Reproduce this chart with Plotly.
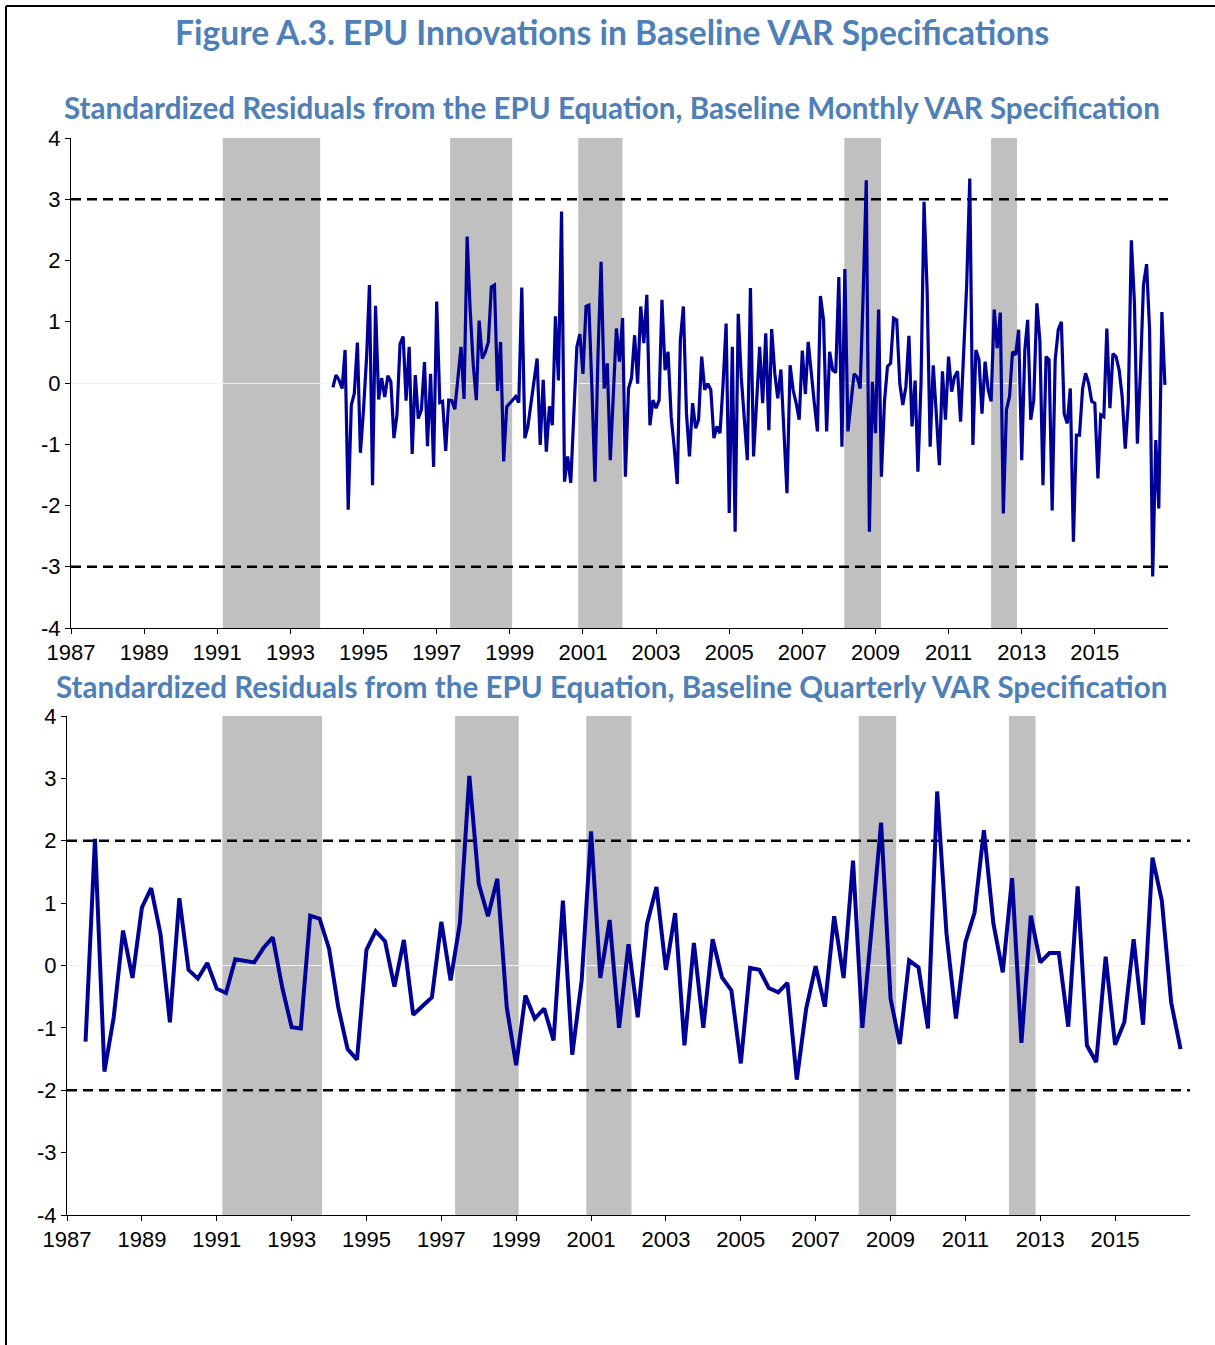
import plotly.graph_objects as go
import pandas as pd

W, H = 1215, 1345

# ---------------- data ----------------
monthly_start = "1994-03-01"
monthly_resid = [
    -0.07, 0.13, 0.05, -0.09, 0.54, -2.07, -0.36, -0.17, 0.66, -1.14,
    -0.44, 0.43, 1.60, -1.67, 1.26, -0.27, 0.08, -0.23, 0.12, 0.02,
    -0.90, -0.52, 0.64, 0.76, -0.29, 0.59, -1.16, 0.13, -0.58, -0.44,
    0.34, -1.03, 0.15, -1.37, 1.33, -0.32, -0.30, -1.11, -0.28, -0.29,
    -0.43, 0.10, 0.59, -0.26, 2.39,
    1.20, 0.30, -0.28, 1.02, 0.40, 0.50, 0.67, 1.57, 1.60, -0.13,
    0.67, -1.28, -0.39, -0.33, -0.28, -0.22, -0.32, 1.56, -0.90, -0.71,
    -0.33, 0.05, 0.40, -1.01, 0.05, -1.12, -0.38, -0.69, 1.09, 0.04,
    2.80, -1.61, -1.20, -1.63, -0.44, 0.59, 0.80, 0.15, 1.25, 1.27,
    -0.11, -1.61, 0.51, 1.98, -0.09, 0.32,
    -1.26, -0.22, 0.89, 0.35, 1.06, -1.53, -0.09, 0.08, 0.78, -0.01,
    1.25, 0.65, 1.44, -0.69, -0.28, -0.41, -0.28, 1.36, 0.21, 0.51,
    -0.55, -1.04, -1.65, 0.70, 1.25, -0.50, -1.20, -0.33, -0.74, -0.60,
    0.43, -0.11, -0.01, -0.11, -0.90, -0.71, -0.82, -0.01, 0.97, -2.12,
    0.59, -2.43, 1.13, 0.10, -0.60, -1.26,
    1.55, -1.20, -0.33, 0.59, -0.33, 0.81, -0.77, 0.88, 0.16, -0.25,
    0.22, -0.70, -1.80, 0.29, -0.11, -0.33, -0.60, 0.53, -0.18, 0.67,
    0.10, -0.33, -0.79, 1.42, 1.03, -0.79, 0.51, 0.21, 0.17, 1.73,
    -1.04, 1.86, -0.79, -0.33, 0.15, 0.10, -0.09, 1.50, 3.31, -2.43,
    0.02, -0.82, 1.20, -1.53, -0.30, 0.27,
    0.32, 1.06, 1.03, -0.01, -0.36, -0.06, 0.77, -0.71, 0.04, -1.45,
    0.00, 2.96, 1.50, -1.04, 0.29, -0.52, -1.34, 0.19, -0.60, 0.43,
    -0.14, 0.10, 0.19, -0.63, 0.50, 1.60, 3.34, -1.01, 0.54, 0.38,
    -0.50, 0.35, -0.11, -0.30, 1.20, 0.57, 1.15, -2.13, -0.44, -0.22,
    0.51, 0.46, 0.87, -1.26, 0.54, 1.03,
    -0.60, -0.28, 1.30, 0.70, -1.67, 0.43, 0.38, -2.08, 0.38, 0.87,
    1.00, -0.50, -0.66, -0.09, -2.59, -0.85, -0.85, -0.09, 0.16, -0.01,
    -0.30, -0.33, -1.56, -0.52, -0.55, 0.89, -0.41, 0.48, 0.43, 0.21,
    -0.22, -1.07, -0.33, 2.33, 1.30, -0.99, 0.20, 1.60, 1.94, 0.87,
    -3.16, -0.93, -2.05, 1.16, -0.03,
]

quarterly_start = "1987-07-01"
quarterly_resid = [
    -1.22, 2.03, -1.70, -0.83, 0.56, -0.20, 0.93, 1.24, 0.51, -0.91,
    1.08, -0.07, -0.21, 0.04, -0.37, -0.44, 0.10, 0.08, 0.05, 0.28,
    0.45, -0.35, -0.99, -1.01, 0.80, 0.75, 0.27, -0.67, -1.34,
    -1.51, 0.25, 0.55, 0.39, -0.34, 0.41, -0.79, -0.64, -0.51, 0.70,
    -0.24, 0.68, 3.04, 1.31, 0.79, 1.39, -0.67, -1.60, -0.48, -0.85,
    -0.69, -1.20, 1.04, -1.43, -0.24, 2.15, -0.20, 0.73, -1.00, 0.34,
    -0.83, 0.67, 1.26, -0.07, 0.84, -1.28, 0.36, -1.00, 0.42, -0.19,
    -0.40, -1.57, -0.04, -0.07, -0.36, -0.43, -0.28, -1.83, -0.69, -0.01,
    -0.66, 0.79, -0.20, 1.68, -1.00, 0.61, 2.29, -0.53, -1.26, 0.08,
    -0.03, -1.01, 2.79, 0.51, -0.85, 0.37, 0.85, 2.17, 0.68, -0.11,
    1.40, -1.24, 0.80, 0.05, 0.20, 0.20, -0.98, 1.27, -1.28, -1.55,
    0.14, -1.27, -0.91, 0.42, -0.95, 1.73, 1.04, -0.59, -1.34,
]

shade_start = ["1991-02-25", "1997-05-15", "2000-11-15", "2008-02-25", "2012-03-01"]
shade_end = ["1993-10-25", "1999-01-25", "2002-01-30", "2009-02-25", "2012-11-15"]

monthly_bands = [3, -3]
quarterly_bands = [2, -2]
year_ticks = list(range(1987, 2016, 2))
y_ticks = list(range(-4, 5))

main_title = "Figure A.3. EPU Innovations in Baseline VAR Specifications"
sub_monthly = "Standardized Residuals from the EPU Equation, Baseline Monthly VAR Specification"
sub_quarterly = "Standardized Residuals from the EPU Equation, Baseline Quarterly VAR Specification"

# ---------------- styling ----------------
LINE_COLOR = "#000099"
SHADE = "#C0C0C0"
TITLE_COLOR = "#4F7FB8"
TICK_FONT = dict(family="Liberation Sans, Arial, sans-serif", size=22, color="black")
TITLE_FONT = "Lato, Open Sans, sans-serif"


def px_x(p):
    return p / W


def px_y(p):
    return 1 - p / H


m_dates = pd.date_range(monthly_start, periods=len(monthly_resid), freq="MS")
q_dates = pd.date_range(quarterly_start, periods=len(quarterly_resid), freq="QS")

fig = go.Figure()
fig.add_trace(go.Scatter(x=m_dates, y=monthly_resid, mode="lines",
                         line=dict(color=LINE_COLOR, width=3.2), xaxis="x", yaxis="y",
                         showlegend=False))
fig.add_trace(go.Scatter(x=q_dates, y=quarterly_resid, mode="lines",
                         line=dict(color=LINE_COLOR, width=4), xaxis="x2", yaxis="y2",
                         showlegend=False))

shapes = []
for xa, ya, bands, x0r, x1r in [("x", "y", monthly_bands, "1987-01-01", "2017-01-01"),
                                 ("x2", "y2", quarterly_bands, "1987-01-01", "2017-01-01")]:
    for s, e in zip(shade_start, shade_end):
        shapes.append(dict(type="rect", xref=xa, yref=ya, x0=s, x1=e, y0=-4, y1=4,
                           fillcolor=SHADE, line=dict(width=0), layer="below"))
    for b in bands:
        shapes.append(dict(type="line", xref=xa, yref=ya, x0=x0r, x1=x1r, y0=b, y1=b,
                           line=dict(color="black", width=2.5, dash="10px,6px"), layer="below"))

# frame border
shapes.append(dict(type="line", xref="paper", yref="paper", x0=px_x(6), x1=px_x(6),
                   y0=0, y1=px_y(6), line=dict(color="black", width=2)))
shapes.append(dict(type="line", xref="paper", yref="paper", x0=px_x(6), x1=1,
                   y0=px_y(6), y1=px_y(6), line=dict(color="black", width=2)))

tickvals = [f"{y}-01-01" for y in year_ticks]
ticktext = [str(y) for y in year_ticks]

xaxis_common = dict(type="date", tickmode="array", tickvals=tickvals, ticktext=ticktext,
                    showgrid=False, zeroline=False, showline=True, linecolor="black",
                    linewidth=1, ticks="outside", ticklen=5, tickcolor="black",
                    tickfont=TICK_FONT, fixedrange=True, automargin=False)
yaxis_common = dict(range=[-4, 4], tickmode="array", tickvals=y_ticks,
                    ticktext=[str(v) for v in y_ticks], showgrid=False,
                    zeroline=True, zerolinecolor="#f2f2f2", zerolinewidth=1,
                    showline=True, linecolor="black", linewidth=1, ticks="outside",
                    ticklen=5, tickcolor="black", tickfont=TICK_FONT, fixedrange=True,
                    automargin=False)

annotations = [
    dict(text=f"<b>{main_title}</b>", x=px_x(612), y=px_y(32), xref="paper", yref="paper",
         showarrow=False, xanchor="center", yanchor="middle",
         font=dict(family=TITLE_FONT, size=33.6, color=TITLE_COLOR)),
    dict(text=f"<b>{sub_monthly}</b>", x=px_x(612), y=px_y(108), xref="paper", yref="paper",
         showarrow=False, xanchor="center", yanchor="middle",
         font=dict(family=TITLE_FONT, size=29.6, color=TITLE_COLOR)),
    dict(text=f"<b>{sub_quarterly}</b>", x=px_x(612), y=px_y(686), xref="paper", yref="paper",
         showarrow=False, xanchor="center", yanchor="middle",
         font=dict(family=TITLE_FONT, size=29.6, color=TITLE_COLOR)),
]

fig.update_layout(
    width=W, height=H, autosize=False,
    margin=dict(l=0, r=0, t=0, b=0, pad=0, autoexpand=False),
    paper_bgcolor="white", plot_bgcolor="rgba(0,0,0,0)",
    xaxis=dict(xaxis_common, domain=[px_x(71), px_x(1168)], range=["1987-01-01", "2017-01-01"],
               anchor="y"),
    yaxis=dict(yaxis_common, domain=[px_y(628), px_y(138)], anchor="x"),
    xaxis2=dict(xaxis_common, domain=[px_x(67), px_x(1190)], range=["1987-01-01", "2017-01-01"],
                anchor="y2"),
    yaxis2=dict(yaxis_common, domain=[px_y(1215), px_y(716)], anchor="x2"),
    shapes=shapes,
    annotations=annotations,
    showlegend=False,
)

fig.write_html("out.html", config={"displayModeBar": False},
               post_script="document.body.style.margin='0';")
